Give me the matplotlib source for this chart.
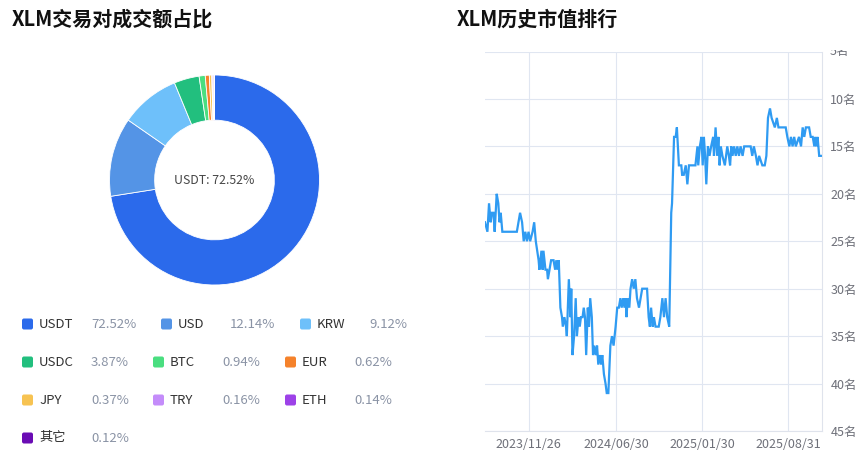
import numpy as np
import pandas as pd
import matplotlib
matplotlib.use('Agg')
import matplotlib.pyplot as plt
import matplotlib.dates as mdates
from matplotlib.patches import FancyBboxPatch
from matplotlib.transforms import Bbox

plt.rcParams['font.family'] = ['Noto Sans CJK SC', 'DejaVu Sans']

# donut data
pairs = ['USDT', 'USD', 'KRW', 'USDC', 'BTC', 'EUR', 'JPY', 'TRY', 'ETH', '其它']
shares = [72.52, 12.14, 9.12, 3.87, 0.94, 0.62, 0.37, 0.16, 0.14, 0.12]
pair_colors = ['#2b6aeb', '#5494e6', '#6ec0fa', '#22bf7e', '#4ade80',
               '#f5822b', '#f7c352', '#c48cfa', '#9d42e8', '#6a0cb4']

# market cap rank history
rank_dates = [
    '2023-08-10', '2023-08-16', '2023-08-20', '2023-08-24', '2023-08-27', '2023-08-31',
    '2023-09-03', '2023-09-08', '2023-09-12', '2023-09-15', '2023-09-18', '2023-09-22',
    '2023-10-28', '2023-11-01', '2023-11-05', '2023-11-10', '2023-11-14', '2023-11-18',
    '2023-11-22', '2023-11-26', '2023-11-30', '2023-12-06', '2023-12-10', '2023-12-14',
    '2023-12-21', '2023-12-23', '2023-12-28', '2023-12-31', '2024-01-02', '2024-01-07',
    '2024-01-11', '2024-01-13', '2024-01-17', '2024-01-21', '2024-01-27', '2024-01-31',
    '2024-02-03', '2024-02-06', '2024-02-09', '2024-02-13', '2024-02-17', '2024-02-19',
    '2024-02-23', '2024-02-27', '2024-02-29', '2024-03-05', '2024-03-09', '2024-03-11',
    '2024-03-14', '2024-03-18', '2024-03-22', '2024-03-25', '2024-03-29', '2024-04-01',
    '2024-04-04', '2024-04-08', '2024-04-11', '2024-04-14', '2024-04-17', '2024-04-21',
    '2024-04-24', '2024-04-27', '2024-05-01', '2024-05-04', '2024-05-07', '2024-05-11',
    '2024-05-14', '2024-05-17', '2024-05-21', '2024-05-24', '2024-05-27', '2024-05-31',
    '2024-06-04', '2024-06-07', '2024-06-11', '2024-06-16', '2024-06-20', '2024-06-24',
    '2024-06-29', '2024-07-03', '2024-07-07', '2024-07-11', '2024-07-14', '2024-07-18',
    '2024-07-21', '2024-07-24', '2024-07-26', '2024-07-29', '2024-08-02', '2024-08-05',
    '2024-08-09', '2024-08-13', '2024-08-17', '2024-08-21', '2024-08-26', '2024-08-30',
    '2024-09-03', '2024-09-07', '2024-09-11', '2024-09-15', '2024-09-19', '2024-09-22',
    '2024-09-25', '2024-09-29', '2024-10-02', '2024-10-06', '2024-10-10', '2024-10-14',
    '2024-10-18', '2024-10-23', '2024-10-27', '2024-10-31', '2024-11-04', '2024-11-09',
    '2024-11-12', '2024-11-14', '2024-11-16', '2024-11-21', '2024-11-25', '2024-11-28',
    '2024-12-03', '2024-12-09', '2024-12-11', '2024-12-15', '2024-12-20', '2024-12-24',
    '2024-12-28', '2025-01-01', '2025-01-13', '2025-01-18', '2025-01-20', '2025-01-24',
    '2025-01-28', '2025-01-31', '2025-02-03', '2025-02-06', '2025-02-09', '2025-02-13',
    '2025-02-17', '2025-02-21', '2025-02-26', '2025-02-28', '2025-03-04', '2025-03-08',
    '2025-03-11', '2025-03-14', '2025-03-17', '2025-03-21', '2025-03-27', '2025-03-30',
    '2025-04-02', '2025-04-06', '2025-04-09', '2025-04-12', '2025-04-15', '2025-04-19',
    '2025-04-23', '2025-04-27', '2025-05-01', '2025-05-05', '2025-05-10', '2025-05-14',
    '2025-05-30', '2025-06-03', '2025-06-07', '2025-06-12', '2025-06-16', '2025-06-20',
    '2025-06-28', '2025-07-04', '2025-07-08', '2025-07-12', '2025-07-17', '2025-07-21',
    '2025-07-29', '2025-08-03', '2025-08-07', '2025-08-25', '2025-08-29', '2025-09-03',
    '2025-09-07', '2025-09-11', '2025-09-15', '2025-09-19', '2025-09-27', '2025-10-02',
    '2025-10-06', '2025-10-10', '2025-10-14', '2025-10-22', '2025-10-26', '2025-10-31',
    '2025-11-04', '2025-11-06', '2025-11-09', '2025-11-12', '2025-11-16', '2025-11-23',
]
rank_values = [
    23, 24, 21, 23, 22, 22,
    24, 20, 21, 23, 22, 24,
    24, 23, 22, 23, 25, 24,
    25, 24, 25, 24, 23, 25,
    27, 28, 26, 28, 26, 28,
    28, 29, 28, 27, 27, 28,
    27, 28, 27, 32, 33, 34,
    33, 34, 35, 29, 33, 30,
    37, 35, 31, 35, 33, 34,
    33, 33, 32, 33, 37, 32,
    34, 31, 33, 37, 36, 37,
    36, 38, 37, 38, 37, 39,
    40, 41, 41, 36, 35, 36,
    34, 32, 32, 31, 32, 31,
    32, 31, 33, 31, 32, 30,
    29, 30, 29, 31, 32, 31,
    30, 30, 30, 30, 33, 34,
    32, 34, 33, 34, 34, 34,
    33, 31, 33, 31, 33, 34,
    27, 22, 21, 14, 14, 13,
    17, 17, 18, 18, 17, 19,
    17, 17, 17, 15, 17, 15,
    14, 17, 14, 16, 19, 15,
    16, 15, 14, 16, 13, 16,
    14, 17, 15, 16, 17, 16,
    15, 16, 17, 15, 16, 15,
    16, 15, 16, 15, 16, 15,
    15, 16, 15, 16, 17, 16,
    17, 17, 16, 12, 11, 12,
    13, 12, 13, 13, 14, 15,
    14, 15, 14, 15, 14, 15,
    13, 14, 13, 13, 14, 14,
    15, 14, 15, 14, 16, 16,
]
date_ticks = ['2023-11-26', '2024-06-30', '2025-01-30', '2025-08-31']
rank_ticks = [5, 10, 15, 20, 25, 30, 35, 40, 45]

W, H = 867, 467
fig = plt.figure(figsize=(W / 100, H / 100), dpi=100)

# overlay in pixel coordinates for titles and the legend
ov = fig.add_axes([0, 0, 1, 1])
ov.set_xlim(0, W)
ov.set_ylim(H, 0)
ov.axis('off')

ov.text(12, 19, 'XLM交易对成交额占比', fontsize=14.4, fontweight='bold', color='#111111', va='center')
ov.text(457, 19, 'XLM历史市值排行', fontsize=14.4, fontweight='bold', color='#111111', va='center')

# donut
r = 105
cx, cy = 214.5, 180
pax = fig.add_axes([(cx - r) / W, 1 - (cy + r) / H, 2 * r / W, 2 * r / H])
pax.pie(shares, colors=pair_colors, startangle=90, counterclock=False, radius=1,
        wedgeprops=dict(width=0.43, edgecolor='white', linewidth=0.6))
pax.set_xlim(-1, 1)
pax.set_ylim(-1, 1)
pax.set_aspect('equal')
pax.text(0, 0, f'{pairs[0]}: {shares[0]:.2f}%', ha='center', va='center', fontsize=8.9, color='#464646')

# legend
row_y = [324, 362, 400, 438]
row_x = [[22, 161, 300], [22, 153, 285], [22, 153, 285], [22]]
k = 0
for ri, xs in enumerate(row_x):
    for x0 in xs:
        y0 = row_y[ri]
        ov.add_patch(FancyBboxPatch((x0 + 1, y0 - 4.5), 9, 9, boxstyle='round,pad=1,rounding_size=2',
                                    fc=pair_colors[k], ec='none'))
        ov.text(x0 + 17, y0, pairs[k], fontsize=9.5, color='#333333', va='center')
        ov.text(x0 + 69, y0, f'{shares[k]:.2f}%', fontsize=9.5, color='#8a93a5', va='center')
        k += 1

# rank line chart
ax = fig.add_axes([485 / W, 1 - 431 / H, 337 / W, 379.5 / H])
dates = pd.to_datetime(rank_dates)
ax.plot(dates, rank_values, color='#2f9bf2', lw=1.6, solid_joinstyle='miter')
ax.set_ylim(45, 5)
ax.set_xlim(dates[0], dates[-1])
ax.set_yticks(rank_ticks)
# the top label is drawn separately below because it is cut off in the original
ax.set_yticklabels(['' if v == rank_ticks[0] else f'{v}名' for v in rank_ticks])
ax.yaxis.tick_right()
ax.set_xticks(pd.to_datetime(date_ticks))
ax.xaxis.set_major_formatter(mdates.DateFormatter('%Y/%m/%d'))
ax.tick_params(axis='both', length=0, labelsize=9, labelcolor='#6e7079')
ax.tick_params(axis='y', pad=6)
ax.tick_params(axis='x', pad=5)
ax.grid(True, color='#e0e6f1', lw=0.8)
ax.set_axisbelow(True)
for s in ['left', 'top']:
    ax.spines[s].set_visible(False)
for s in ['right', 'bottom']:
    ax.spines[s].set_color('#dfe3ec')
    ax.spines[s].set_linewidth(0.8)

top_lab = ov.text(830, 51.5, f'{rank_ticks[0]}名', fontsize=9, color='#6e7079', va='center')
top_lab.set_clip_box(Bbox.from_extents(0, 0, W, H - 50))
top_lab.set_clip_on(True)

fig.savefig('out.png', dpi=100)
